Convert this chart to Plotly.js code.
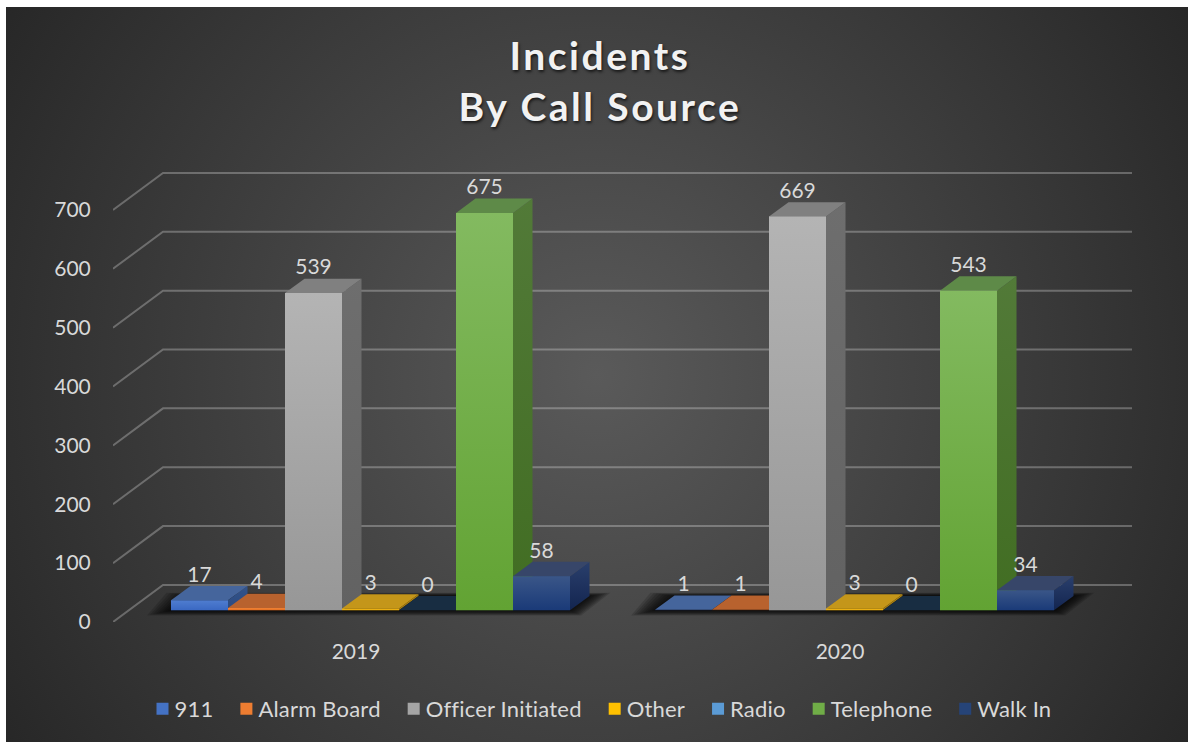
<!DOCTYPE html>
<html>
<head>
<meta charset="utf-8">
<script src="https://cdn.plot.ly/plotly-3.0.1.min.js"></script>
<style>
html,body{margin:0;padding:0;background:#fff;width:1188px;height:742px;overflow:hidden}
#bg{position:absolute;left:6px;top:7px;width:1182px;height:735px;
background:radial-gradient(circle 700px at 50% 50%,#5a5a5a 0%,#272727 100%)}
#chart{position:absolute;left:0;top:0;width:1188px;height:742px}
.gtitle{letter-spacing:2.5px}
.legendtext{letter-spacing:0.2px;transform:translateX(-8px)}
.legendbar path{transform:scale(1.17)}
.traces:nth-child(1) .legendbar path{fill:url(#lg0)!important}
.traces:nth-child(2) .legendbar path{fill:url(#lg1)!important}
.traces:nth-child(3) .legendbar path{fill:url(#lg2)!important}
.traces:nth-child(4) .legendbar path{fill:url(#lg3)!important}
.traces:nth-child(5) .legendbar path{fill:url(#lg4)!important}
.traces:nth-child(6) .legendbar path{fill:url(#lg5)!important}
.traces:nth-child(7) .legendbar path{fill:url(#lg6)!important}
</style>
</head>
<body>
<div id="bg"></div>
<svg width="0" height="0" style="position:absolute"><defs id="swatchDefs"></defs></svg>
<div id="chart"></div>
<script>
// ---- data ----
const years = ['2019', '2020'];
const seriesNames = ['911', 'Alarm Board', 'Officer Initiated', 'Other', 'Radio', 'Telephone', 'Walk In'];
const values911 = [17, 1];
const valuesAlarmBoard = [4, 1];
const valuesOfficerInitiated = [539, 669];
const valuesOther = [3, 3];
const valuesRadio = [0, 0];
const valuesTelephone = [675, 543];
const valuesWalkIn = [58, 34];
const seriesValues = [values911, valuesAlarmBoard, valuesOfficerInitiated, valuesOther, valuesRadio, valuesTelephone, valuesWalkIn];
const yTicks = [0, 100, 200, 300, 400, 500, 600, 700];

// ---- styles: front top, front bottom, top face, side top, side bottom, legend ----
const looks = [
  {ft:'#4f7dd0', fb:'#3a68c2', top:'#45659c', st:'#33538a', sb:'#2b4a80', lg:'#4472c4'},
  {ft:'#f08236', fb:'#e46f20', top:'#b8622e', st:'#a04f20', sb:'#a04f20', lg:'#ed7d31'},
  {ft:'#b4b4b4', fb:'#979797', top:'#808080', st:'#6e6e6e', sb:'#626262', lg:'#a5a5a5'},
  {ft:'#f2b818', fb:'#e6a90c', top:'#c4961a', st:'#a97f10', sb:'#a97f10', lg:'#ffc000'},
  {ft:'#5b9bd5', fb:'#4a8ac8', top:'#182d42', st:'#1c3550', sb:'#1c3550', lg:'#5b9bd5'},
  {ft:'#83ba60', fb:'#62a333', top:'#5e8a48', st:'#527a38', sb:'#416d22', lg:'#70ad47'},
  {ft:'#3a5688', fb:'#1a3a78', top:'#374669', st:'#2a3f6c', sb:'#132550', lg:'#264478'}
];
document.getElementById('swatchDefs').innerHTML = looks.map((L, i) =>
  `<linearGradient id="lg${i}" x1="0" y1="0" x2="0" y2="1"><stop offset="0" stop-color="${L.ft}"/><stop offset="1" stop-color="${L.fb}"/></linearGradient>`).join('');

// ---- oblique projection, in axis units ----
const unitsPerPx = 1 / 0.5883;        // value units per pixel
const pxPerBar = 57;                  // pixels per x unit (one bar width)
const xMax = 1019 / pxPerBar;
const yMax = 461.7 * unitsPerPx;
const wallDX = 50 / pxPerBar, wallDY = 37 * unitsPerPx;
const barDX = 19.5 / pxPerBar, barDY = 14.3 * unitsPerPx;
const floorY = 11.7 * unitsPerPx;
const groupStart = [58 / pxPerBar, 542 / pxPerBar];
const groupCentre = [243 / pxPerBar, 727 / pxPerBar];
const labelGap = 9.5 * unitsPerPx;
const nBars = seriesNames.length;

const traces = [];
// real bars (carry the legend), covered by the shaded faces
seriesNames.forEach((name, s) => {
  traces.push({
    type: 'bar', name: name,
    x: years.map((_, g) => groupStart[g] + s + 0.5),
    y: seriesValues[s], base: years.map(() => floorY), width: 1,
    marker: {color: looks[s].lg, line: {width: 0}},
    hoverinfo: 'skip', showlegend: true
  });
});

function poly(xs, ys, fill) {
  const t = {type: 'scatter', mode: 'lines', x: xs.concat(xs[0]), y: ys.concat(ys[0]), fill: 'toself',
    line: {width: 0, color: 'rgba(0,0,0,0)'}, hoverinfo: 'skip', showlegend: false};
  if (typeof fill === 'string') t.fillcolor = fill; else {
    t.fillgradient = {type: 'vertical', start: Math.max(...ys), stop: Math.min(...ys),
      colorscale: [[0, fill[0]], [1, fill[1]]]};
  }
  return t;
}

// wall + floor grid
const gx = [], gy = [];
yTicks.forEach(v => { gx.push(0, wallDX, xMax, null); gy.push(v, v + wallDY, v + wallDY, null); });
traces.push({type: 'scatter', mode: 'lines', x: gx, y: gy, line: {color: 'rgba(255,255,255,0.27)', width: 2},
  hoverinfo: 'skip', showlegend: false});

// soft floor shadow
years.forEach((_, g) => {
  const x0 = groupStart[g], x1 = x0 + nBars;
  for (let k = 1; k <= 8; k++) {
    const left = k * 3 / pxPerBar, rightTop = k * 2.6 / pxPerBar, rightBot = k * 1.4 / pxPerBar;
    const below = k * 0.65 * unitsPerPx, above = k * 0.4 * unitsPerPx;
    traces.push(poly(
      [x0 - left, x0 + barDX - left, x1 + barDX + rightTop, x1 + rightBot],
      [floorY - below, floorY + barDY + above, floorY + barDY + above, floorY - below],
      'rgba(0,0,0,0.15)'));
  }
});

// faces, painted left to right
years.forEach((_, g) => {
  seriesNames.forEach((_, s) => {
    const v = seriesValues[s][g], L = looks[s];
    const x = groupStart[g] + s, b = floorY, t = b + v;
    if (v > 0) traces.push(poly([x + 1, x + 1 + barDX, x + 1 + barDX, x + 1],
                                [b, b + barDY, t + barDY, t], [L.st, L.sb]));
    traces.push(poly([x, x + barDX, x + 1 + barDX, x + 1],
                     [t, t + barDY, t + barDY, t], L.top));
    if (v > 0) traces.push(poly([x, x + 1, x + 1, x], [b, b, t, t], [L.ft, L.fb]));
  });
});

// value labels
const lx = [], ly = [], lt = [];
years.forEach((_, g) => seriesNames.forEach((_, s) => {
  const v = seriesValues[s][g];
  lx.push(groupStart[g] + s + 0.5); ly.push(floorY + v + barDY + labelGap); lt.push(String(v));
}));
traces.push({type: 'scatter', mode: 'text', x: lx, y: ly, text: lt, textposition: 'middle center',
  textfont: {family: 'Lato, sans-serif', size: 21, color: '#d9d9d9'}, cliponaxis: false,
  hoverinfo: 'skip', showlegend: false});

const layout = {
  width: 1188, height: 742, autosize: false,
  paper_bgcolor: 'rgba(0,0,0,0)', plot_bgcolor: 'rgba(0,0,0,0)',
  margin: {l: 113, r: 56, t: 160, b: 120.3, pad: 0},
  barmode: 'overlay', hovermode: false, dragmode: false,
  font: {family: 'Lato, sans-serif', size: 20, color: '#d9d9d9'},
  title: {text: 'Incidents<br>By Call Source', x: 0.505, xanchor: 'center', y: 0.905, yanchor: 'top',
    yref: 'container',
    font: {family: 'Lato, sans-serif', size: 39, weight: 700, color: '#f2f2f2', shadow: '1px 2px 3px rgba(0,0,0,0.65)'}},
  xaxis: {range: [0, xMax], showgrid: false, zeroline: false, showline: false,
    tickmode: 'array', tickvals: groupCentre, ticktext: years, ticks: 'outside', ticklen: 11,
    tickcolor: 'rgba(0,0,0,0)', tickfont: {size: 21, color: '#d9d9d9'}, fixedrange: true},
  yaxis: {range: [0, yMax], showgrid: false, zeroline: false, showline: false,
    tickmode: 'array', tickvals: yTicks, ticktext: yTicks.map(String), ticks: 'outside', ticklen: 17,
    tickcolor: 'rgba(0,0,0,0)', tickfont: {size: 21, color: '#d9d9d9'}, fixedrange: true},
  legend: {orientation: 'h', x: 0.508, xanchor: 'center', xref: 'container', y: 0.0445, yanchor: 'middle', yref: 'container',
    bgcolor: 'rgba(0,0,0,0)', font: {size: 22, color: '#d9d9d9'}, itemclick: false, itemdoubleclick: false}
};
Plotly.newPlot('chart', traces, layout, {displayModeBar: false, staticPlot: true});
</script>
</body>
</html>
